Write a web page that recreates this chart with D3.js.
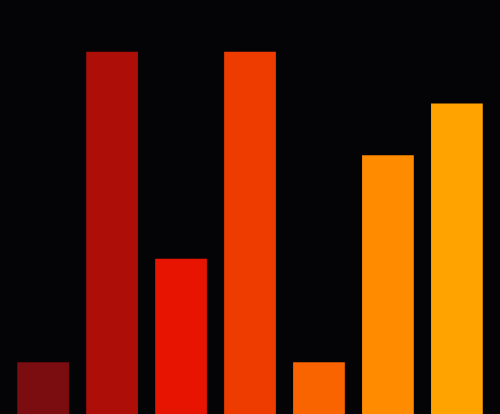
<!DOCTYPE html>
<html>
<head>
<meta charset="utf-8">
<script src="https://cdn.jsdelivr.net/npm/d3@7"></script>
<style>
  html, body { margin: 0; padding: 0; background: #040306; overflow: hidden; }
  svg { display: block; }
</style>
</head>
<body>
<div id="chart"></div>
<script>
var categories = ["A", "B", "C", "D", "E", "F", "G"];
var values = [1, 7, 3, 7, 1, 5, 6];
var colors = ["#7b0c0f", "#ad0f08", "#e61400", "#ee3c00", "#f96400", "#ff8c00", "#ffa300"];

var width = 500,
    height = 414;

var svg = d3.select("#chart")
    .append("svg")
    .attr("width", width)
    .attr("height", height);

svg.append("rect")
    .attr("width", width)
    .attr("height", height)
    .attr("fill", "#040306");

var x = d3.scaleBand()
    .domain(categories)
    .range([0, width])
    .padding(0.25);

var y = d3.scaleLinear()
    .domain([0, 8])
    .range([height, 0]);

var color = d3.scaleOrdinal()
    .domain(categories)
    .range(colors);

svg.append("g")
    .selectAll("rect")
    .data(values)
    .enter()
    .append("rect")
    .attr("x", function (d, i) { return x(categories[i]); })
    .attr("y", function (d) { return y(d); })
    .attr("width", x.bandwidth())
    .attr("height", function (d) { return height - y(d); })
    .attr("fill", function (d, i) { return color(categories[i]); });
</script>
</body>
</html>
